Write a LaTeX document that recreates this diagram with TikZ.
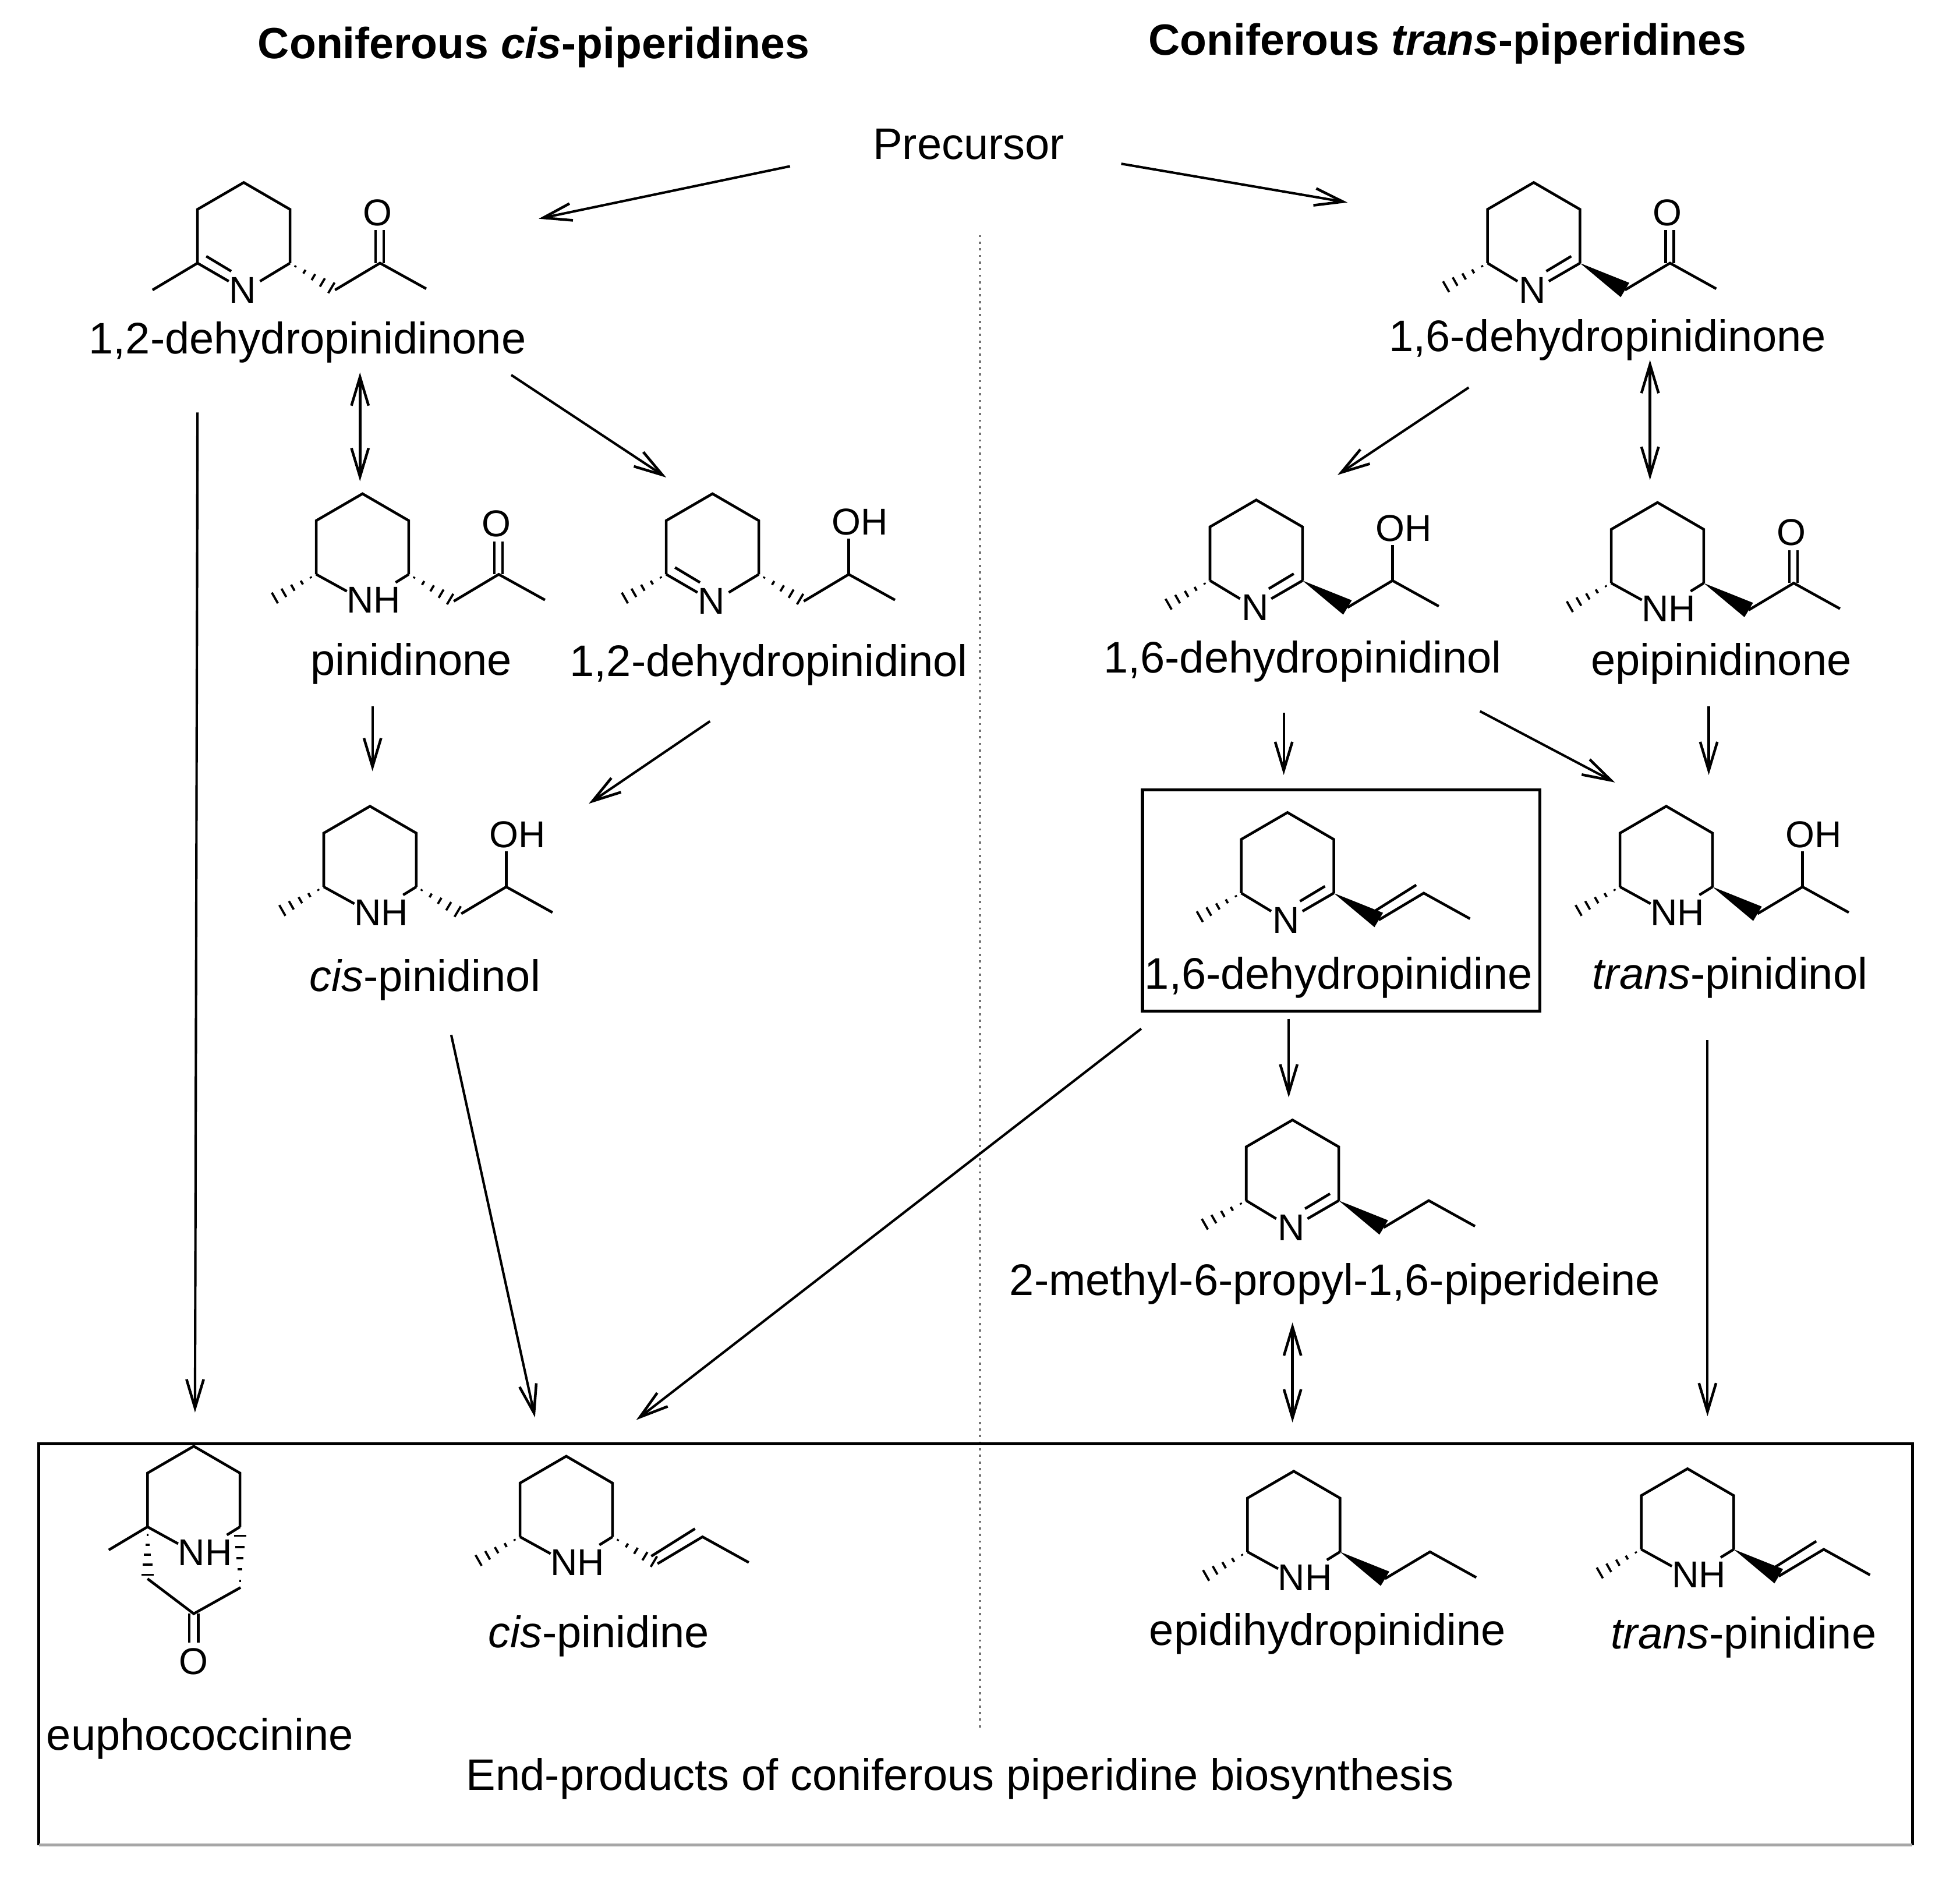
\documentclass[tikz,border=0pt]{standalone}
\usepackage{fontspec}
\setmainfont{Liberation Sans}
\usetikzlibrary{calc,arrows.meta}

\tikzset{
  bond/.style={line width=0.6pt},
  rxn/.style={line width=0.55pt,-{Straight Barb[length=6.5pt,width=3.9pt,line width=0.6pt]}},
  eqm/.style={line width=0.6pt,{Straight Barb[length=6.5pt,width=3.9pt,line width=0.6pt]}-{Straight Barb[length=6.5pt,width=3.9pt,line width=0.6pt]}},
  atom/.style={inner sep=0pt,font=\fontsize{8.5pt}{10pt}\selectfont},
  label/.style={inner sep=0pt,font=\fontsize{10.05pt}{12pt}\selectfont},
  heading/.style={inner sep=0pt,font=\fontsize{9.95pt}{12pt}\selectfont\bfseries},
  frame/.style={line width=0.7pt},
}

% wedge and hashed bonds, thin end first
\newcommand{\wedgebond}[2]{\fill (#1) -- ($(#2)!1.9pt!90:(#1)$) -- ($(#2)!1.9pt!-90:(#1)$) -- cycle;}
\newcommand{\hashbond}[2]{
  \foreach \t/\w in {0.12/0.2,0.32/0.5,0.52/0.8,0.72/1.1,0.92/1.4}
    \draw[line width=0.5pt] ($(#1)!\t!(#2)!\w pt!90:(#2)$) -- ($(#1)!\t!(#2)!\w pt!-90:(#2)$);
}

% ring variants
\newcommand{\ringbonds}{\draw[bond] (-37,64.5) -- (-37,21.5) -- (0,0) -- (37,21.5) -- (37,64.5);}
\newcommand{\imineL}{\ringbonds
  \node[atom] (\mname N) at (-1,86) {N};
  \draw[bond] (-37,64.5) -- (-12,79);
  \draw[bond] (-30,59) -- (-10,71);
  \draw[bond] (37,64.5) -- (13,79);}
\newcommand{\imineR}{\ringbonds
  \node[atom] (\mname N) at (-1,86) {N};
  \draw[bond] (37,64.5) -- (12,79);
  \draw[bond] (30,59) -- (10,71);
  \draw[bond] (-37,64.5) -- (-13,79);}
\newcommand{\amine}{\ringbonds
  \node[atom] (\mname N) at (9,85) {NH};
  \draw[bond] (-37,64.5) -- (-12.5,78);
  \draw[bond] (37,64.5) -- (26.5,71);}

% left methyl
\newcommand{\mehash}{\hashbond{-37,64.5}{-73,85}}

% side chains
\newcommand{\wedgeside}{\wedgebond{37,64.5}{73,86}}
\newcommand{\hashside}{\hashbond{37,64.5}{73,86}}
\newcommand{\ketone}{
  \draw[bond] (73,86) -- (109,64.5) -- (146,85);
  \draw[bond] (105.5,64.5) -- (105.5,38);
  \draw[bond] (112,64.5) -- (112,38);
  \node[atom] (\mname O) at (107,24) {O};}
\newcommand{\alcohol}{
  \draw[bond] (73,86) -- (109,64.5) -- (146,85);
  \draw[bond] (109,64.5) -- (109,36);
  \node[atom] (\mname O) at (118,22.5) {OH};}
\newcommand{\propenyl}{
  \draw[bond] (73,86) -- (109,64.5) -- (146,85);
  \draw[bond] (68,80) -- (103,58);}
\newcommand{\propyl}{
  \draw[bond] (73,86) -- (109,64.5) -- (146,85);}

\newcommand{\molecule}[6]{
  \begin{scope}[shift={(#2,#3)}]
    \def\mname{#1}
    #4 #5 #6
  \end{scope}
}

\begin{document}
\begin{tikzpicture}[x=0.01cm,y=-0.01cm]
\useasboundingbox (0,0) rectangle (1568,1514.4);

% titles and separator
\node[heading] (titlecis) at (427,38) {Coniferous \textit{cis}-piperidines};
\node[heading] (titletrans) at (1158,35) {Coniferous \textit{trans}-piperidines};
\node[label] (precursor) at (775,115.5) {Precursor};
\coordinate (septop) at (784,188);
\coordinate (sepbot) at (784,1385);
\draw[densely dotted,line width=0.5pt,black!55] (septop) -- (sepbot);

% boxes
\draw[frame] (31,1476) -- (31,1155) -- (1530,1155) -- (1530,1476);
\draw[frame,black!35] (31,1476) -- (1530,1476);
\draw[frame] (914,632) rectangle (1232,809);

% molecules
\molecule{dhnone}{195}{146}{\imineL}{\draw[bond] (-37,64.5) -- (-73,86);}{\hashside\ketone}
\node[label] (dhnonelab) at (246,274) {1,2-dehydropinidinone};
\molecule{dhnoneb}{1227}{146}{\imineR}{\mehash}{\wedgeside\ketone}
\node[label] (dhnoneblab) at (1286,272) {1,6-dehydropinidinone};
\molecule{pinone}{290}{395}{\amine}{\mehash}{\hashside\ketone}
\node[label] (pinonelab) at (329,531) {pinidinone};
\molecule{dhnol}{570}{395}{\imineL}{\mehash}{\hashside\alcohol}
\node[label] (dhnollab) at (615,532) {1,2-dehydropinidinol};
\molecule{dhnolb}{1005}{400}{\imineR}{\mehash}{\wedgeside\alcohol}
\node[label] (dhnolblab) at (1042,529) {1,6-dehydropinidinol};
\molecule{epinone}{1326}{402}{\amine}{\mehash}{\wedgeside\ketone}
\node[label] (epinonelab) at (1377,531) {epipinidinone};
\molecule{cisnol}{296}{645}{\amine}{\mehash}{\hashside\alcohol}
\node[label] (cisnollab) at (340,784) {\textit{cis}-pinidinol};
\molecule{dhdine}{1030}{650}{\imineR}{\mehash}{\wedgeside\propenyl}
\node[label] (dhdinelab) at (1071,782) {1,6-dehydropinidine};
\molecule{transnol}{1333}{645}{\amine}{\mehash}{\wedgeside\alcohol}
\node[label] (transnollab) at (1384,782) {\textit{trans}-pinidinol};
\molecule{propyl}{1034}{896}{\imineR}{\mehash}{\wedgeside\propyl}
\node[label] (propyllab) at (1068,1027) {2-methyl-6-propyl-1,6-piperideine};
\molecule{cisdine}{453}{1165}{\amine}{\mehash}{\hashside\propenyl}
\node[label] (cisdinelab) at (479,1309) {\textit{cis}-pinidine};
\molecule{epidine}{1035}{1177}{\amine}{\mehash}{\wedgeside\propyl}
\node[label] (epidinelab) at (1062,1307) {epidihydropinidine};
\molecule{transdine}{1350}{1175}{\amine}{\mehash}{\wedgeside\propenyl}
\node[label] (transdinelab) at (1395,1310) {\textit{trans}-pinidine};

% euphococcinine
\begin{scope}[shift={(155,1157)}]
  \def\mname{euph}
  \amine
  \draw[bond] (-37,64.5) -- (-68,83);
  \hashbond{-37,66}{-37,106}
  \hashbond{37,113}{37,68}
  \draw[bond] (-37,106) -- (0,134) -- (37.5,113);
  \draw[bond] (-3.5,134) -- (-3.5,157);
  \draw[bond] (3.5,134) -- (3.5,157);
  \node[atom] (euphO) at (0,172) {O};
\end{scope}
\node[label] (euphlab) at (160,1391) {euphococcinine};
\node[label] (endlab) at (768,1423) {End-products of coniferous piperidine biosynthesis};

% arrow ends
\coordinate (precl) at (632,133);      \coordinate (dhnonein) at (431,175);
\coordinate (precr) at (897,131);      \coordinate (dhnonebin) at (1078,162);
\coordinate (dhnoneoutd) at (158,330); \coordinate (euphin) at (156,1130);
\coordinate (dhnoneouta) at (288,298); \coordinate (pinonein) at (288,385);
\coordinate (dhnoneoutb) at (409,300); \coordinate (dhnolin) at (533,382);
\coordinate (dhnonebouta) at (1175,310); \coordinate (dhnolbin) at (1070,380);
\coordinate (dhnoneboutb) at (1320,288); \coordinate (epinonein) at (1320,384);
\coordinate (pinoneout) at (298,565);  \coordinate (cisnolina) at (298,617);
\coordinate (dhnolout) at (568,577);   \coordinate (cisnolinb) at (471,643);
\coordinate (dhnolbouta) at (1027,570); \coordinate (dhdinein) at (1027,620);
\coordinate (dhnolboutb) at (1184,569); \coordinate (transnolina) at (1292,626);
\coordinate (epinoneout) at (1367,565); \coordinate (transnolinb) at (1367,620);
\coordinate (dhdineouta) at (1031,815); \coordinate (propylin) at (1031,878);
\coordinate (dhdineoutb) at (913,823); \coordinate (cisdineina) at (509,1136);
\coordinate (cisnolout) at (361,828);  \coordinate (cisdineinb) at (428,1134);
\coordinate (transnolout) at (1366,832); \coordinate (transdinein) at (1366,1133);
\coordinate (propylout) at (1034,1058); \coordinate (epidinein) at (1034,1138);

\draw[rxn] (precl) -- (dhnonein);
\draw[rxn] (precr) -- (dhnonebin);
\draw[rxn] (dhnoneoutd) -- (euphin);
\draw[eqm] (dhnoneouta) -- (pinonein);
\draw[rxn] (dhnoneoutb) -- (dhnolin);
\draw[rxn] (dhnonebouta) -- (dhnolbin);
\draw[eqm] (dhnoneboutb) -- (epinonein);
\draw[rxn] (pinoneout) -- (cisnolina);
\draw[rxn] (dhnolout) -- (cisnolinb);
\draw[rxn] (dhnolbouta) -- (dhdinein);
\draw[rxn] (dhnolboutb) -- (transnolina);
\draw[rxn] (epinoneout) -- (transnolinb);
\draw[rxn] (dhdineouta) -- (propylin);
\draw[rxn] (dhdineoutb) -- (cisdineina);
\draw[rxn] (cisnolout) -- (cisdineinb);
\draw[rxn] (transnolout) -- (transdinein);
\draw[eqm] (propylout) -- (epidinein);
\end{tikzpicture}
\end{document}
